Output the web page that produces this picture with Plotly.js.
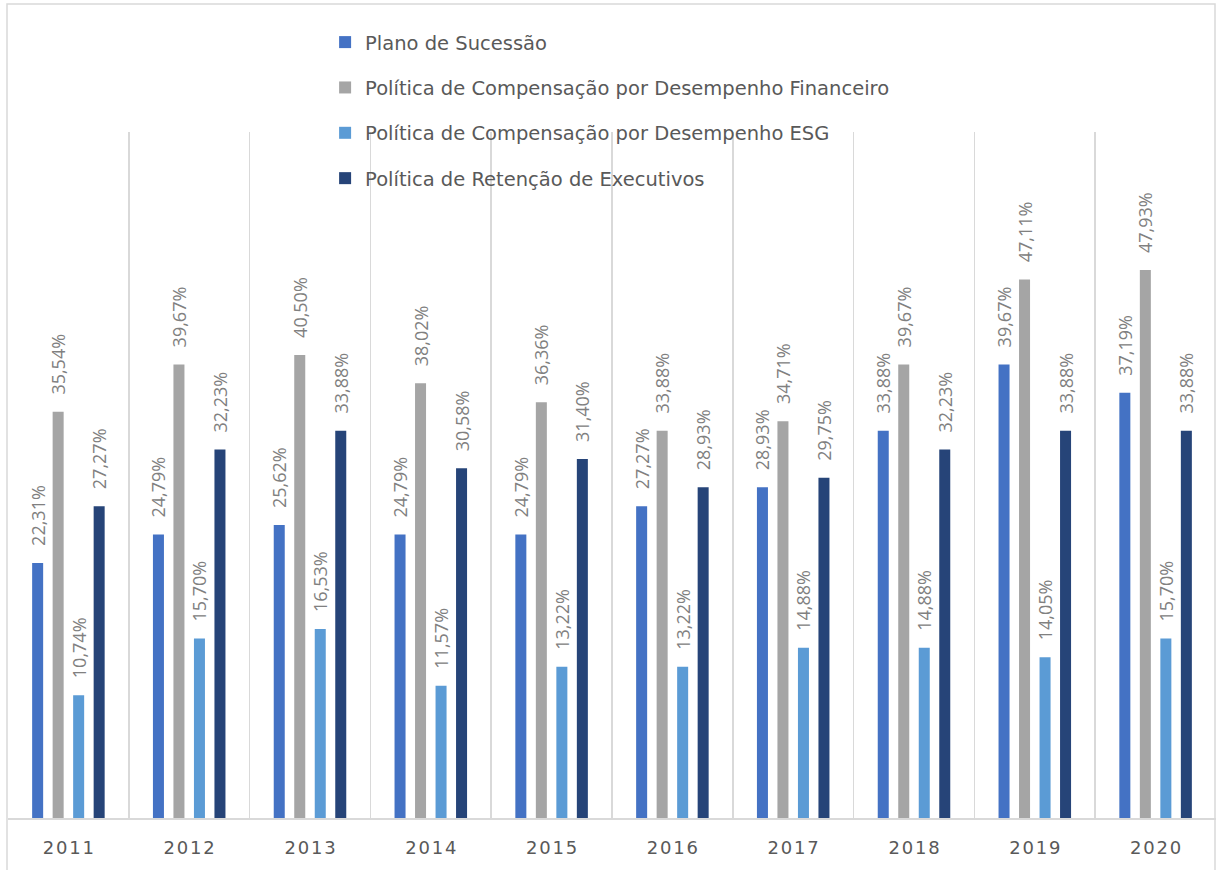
<!DOCTYPE html>
<html>
<head>
<meta charset="utf-8">
<script src="https://cdn.plot.ly/plotly-3.0.1.min.js"></script>
<style>html,body{margin:0;padding:0;background:#fff;}</style>
</head>
<body>
<div id="chart" style="width:1216px;height:870px;"></div>
<script>
const years = ['2011','2012','2013','2014','2015','2016','2017','2018','2019','2020'];
const seriesNames = [
  'Plano de Sucessão',
  'Política de Compensação por Desempenho Financeiro',
  'Política de Compensação por Desempenho ESG',
  'Política de Retenção de Executivos'
];
const planoSucessao = [22.31, 24.79, 25.62, 24.79, 24.79, 27.27, 28.93, 33.88, 39.67, 37.19];
const compFinanceiro = [35.54, 39.67, 40.50, 38.02, 36.36, 33.88, 34.71, 39.67, 47.11, 47.93];
const compESG = [10.74, 15.70, 16.53, 11.57, 13.22, 13.22, 14.88, 14.88, 14.05, 15.70];
const retencao = [27.27, 32.23, 33.88, 30.58, 31.40, 28.93, 29.75, 32.23, 33.88, 33.88];
const colors = ['#4472C4', '#A5A5A5', '#5B9BD5', '#264478'];

const tickLabels = years.map(y => y.split('').join('\u200a'));
const allValues = [planoSucessao, compFinanceiro, compESG, retencao];

const traces = allValues.map((vals, i) => ({
  type: 'bar',
  name: seriesNames[i],
  x: years,
  y: vals,
  legendgroup: 'g' + i,
  marker: {color: colors[i], line: {width: 0}},
  texttemplate: '\u00a0\u00a0\u00a0%{y:.2f}%',
  textposition: 'outside',
  textangle: -90,
  constraintext: 'none',
  cliponaxis: false,
  textfont: {family: 'Open Sans, sans-serif', size: 18, color: '#808080'},
  hoverinfo: 'x+y'
}));

const layout = {
  width: 1216,
  height: 870,
  margin: {l: 8, r: 0, t: 132, b: 52},
  paper_bgcolor: '#ffffff',
  plot_bgcolor: '#ffffff',
  separators: ',.',
  barmode: 'group',
  bargap: 0.321,
  bargroupgap: 0.463,
  showlegend: true,
  legend: {
    x: 0.2625, xanchor: 'left',
    y: 1.159, yanchor: 'top',
    orientation: 'v',
    traceorder: 'grouped',
    tracegroupgap: 17,
    bgcolor: 'rgba(0,0,0,0)',
    font: {family: 'DejaVu Sans, sans-serif', size: 19.5, color: '#595959'}
  },
  xaxis: {
    type: 'category',
    tickson: 'boundaries',
    showgrid: true,
    gridcolor: '#D9D9D9',
    gridwidth: 1.5,
    showline: true,
    linecolor: '#D9D9D9',
    linewidth: 1.5,
    ticks: '',
    tickvals: years,
    ticktext: tickLabels,
    ticklabelstandoff: 13,
    tickfont: {family: 'DejaVu Sans, sans-serif', size: 18, color: '#595959'},
    zeroline: false,
    fixedrange: true
  },
  yaxis: {
    range: [0, 60],
    showgrid: false,
    zeroline: false,
    showticklabels: false,
    showline: false,
    ticks: '',
    fixedrange: true
  },
  shapes: [{
    type: 'rect', xref: 'paper', yref: 'paper',
    x0: -1/1208, x1: 1207/1208,
    y0: -62/686, y1: 814/686,
    line: {color: '#D9D9D9', width: 1.5},
    fillcolor: 'rgba(0,0,0,0)',
    layer: 'below'
  }]
};

Plotly.newPlot('chart', traces, layout, {displayModeBar: false, staticPlot: true});
</script>
</body>
</html>
